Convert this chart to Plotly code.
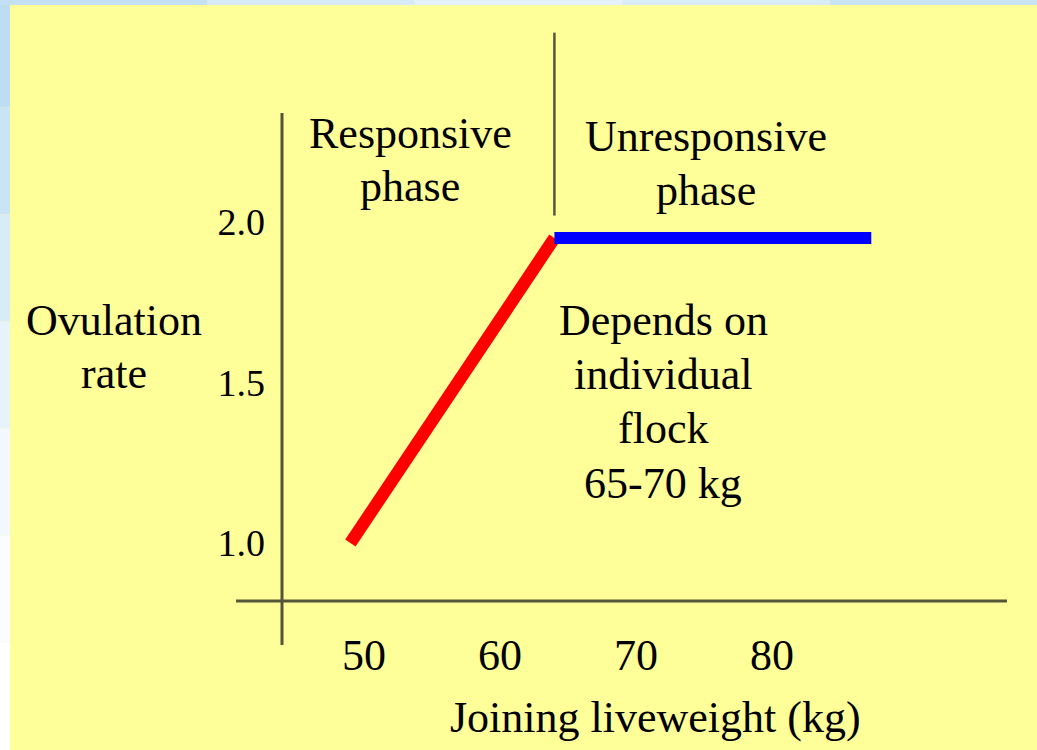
import plotly.graph_objects as go

# ---- data ----
responsive_x = [49, 64]
responsive_y = [1.0, 1.95]
unresponsive_x = [64, 87.3]
unresponsive_y = [1.95, 1.95]
x_ticks = [50, 60, 70, 80]
x_tick_labels = ["50", "60", "70", "80"]
y_ticks = [1.0, 1.5, 2.0]
y_tick_labels = ["1.0", "1.5", "2.0"]
divider_x = 64
divider_y = [2.02, 2.59]

W, H = 1037, 750
BG = "#FFFF99"
AXIS_COL = "#55553a"
FONT = "Liberation Serif"

fig = go.Figure()
fig.add_trace(go.Scatter(x=responsive_x, y=responsive_y, mode="lines",
                         line=dict(color="#FF0000", width=12.5), hoverinfo="skip"))
fig.add_trace(go.Scatter(x=unresponsive_x, y=unresponsive_y, mode="lines",
                         line=dict(color="#0000FF", width=12), hoverinfo="skip"))

# pixel mapping helpers for paper coords
def px(x):
    return x / W

def py(y):
    return 1 - y / H

shapes = []
# background edge strips (light blue gradient imitation)
left_cols = ["#BCDDF2", "#C9E4F5", "#D8ECF8", "#E6F3FB", "#F2F8FD", "#FAFCFE", "#FFFFFF"]
n = len(left_cols)
for i, c in enumerate(left_cols):
    shapes.append(dict(type="rect", xref="paper", yref="paper",
                       x0=0, x1=px(10), y0=py(H * (i + 1) / n), y1=py(H * i / n),
                       fillcolor=c, line=dict(width=0), layer="below"))
top_cols = ["#C4E0F3", "#D6EAF7", "#E4F1FA", "#D8EBF7", "#C8E3F4"]
m = len(top_cols)
for i, c in enumerate(top_cols):
    shapes.append(dict(type="rect", xref="paper", yref="paper",
                       x0=px(W * i / m), x1=px(W * (i + 1) / m), y0=py(5), y1=1,
                       fillcolor=c, line=dict(width=0), layer="below"))
# yellow panel
shapes.append(dict(type="rect", xref="paper", yref="paper",
                   x0=px(10), x1=1, y0=0, y1=py(5),
                   fillcolor=BG, line=dict(width=0), layer="below"))
# axis lines
shapes.append(dict(type="line", xref="paper", yref="paper",
                   x0=px(236), x1=px(1007), y0=py(601), y1=py(601),
                   line=dict(color=AXIS_COL, width=3)))
shapes.append(dict(type="line", xref="paper", yref="paper",
                   x0=px(282), x1=px(282), y0=py(113), y1=py(645),
                   line=dict(color=AXIS_COL, width=3)))
# phase divider
shapes.append(dict(type="line", xref="x", yref="y",
                   x0=divider_x, x1=divider_x, y0=divider_y[0], y1=divider_y[1],
                   line=dict(color=AXIS_COL, width=2.5)))

annotations = []
def note(lines, x, y_first, step=54, size=44):
    for k, t in enumerate(lines):
        annotations.append(dict(text=t, xref="paper", yref="paper",
                                x=px(x), y=py(y_first + k * step), showarrow=False,
                                xanchor="center", yanchor="middle",
                                font=dict(family=FONT, size=size, color="black")))

note(["Responsive", "phase"], 410, 133)
note(["Unresponsive", "phase"], 706, 136)
note(["Depends on", "individual", "flock", "65-70 kg"], 663, 320, step=54.5)
note(["Ovulation", "rate"], 114, 320)
note(["Joining liveweight (kg)"], 655, 717)

# axis scale: 50 -> 364 px, 80 -> 772 px ; 1.0 -> 543 px, 2.0 -> 222 px
sx = (772 - 364) / 30.0
sy = (543 - 222) / 1.0
x_range = [50 - 364 / sx, 50 + (W - 364) / sx]
y_range = [1.0 - (H - 543) / sy, 2.0 + 222 / sy]

fig.update_layout(
    width=W, height=H,
    margin=dict(l=0, r=0, t=0, b=0),
    paper_bgcolor=BG, plot_bgcolor="rgba(0,0,0,0)",
    showlegend=False,
    shapes=shapes, annotations=annotations,
    xaxis=dict(range=x_range, domain=[0, 1], anchor="free", position=py(601),
               tickvals=x_ticks, ticktext=x_tick_labels, showgrid=False,
               zeroline=False, showline=False, ticks="", ticklabelstandoff=24,
               tickfont=dict(family=FONT, size=44, color="black"), fixedrange=True),
    yaxis=dict(range=y_range, domain=[0, 1], anchor="free", position=px(282),
               tickvals=y_ticks, ticktext=y_tick_labels, showgrid=False,
               zeroline=False, showline=False, ticks="", ticklabelstandoff=17,
               tickfont=dict(family=FONT, size=38, color="black"), fixedrange=True),
)

fig.write_html("out.html", config={"displayModeBar": False},
               post_script="document.body.style.margin='0';document.body.style.overflow='hidden';")
